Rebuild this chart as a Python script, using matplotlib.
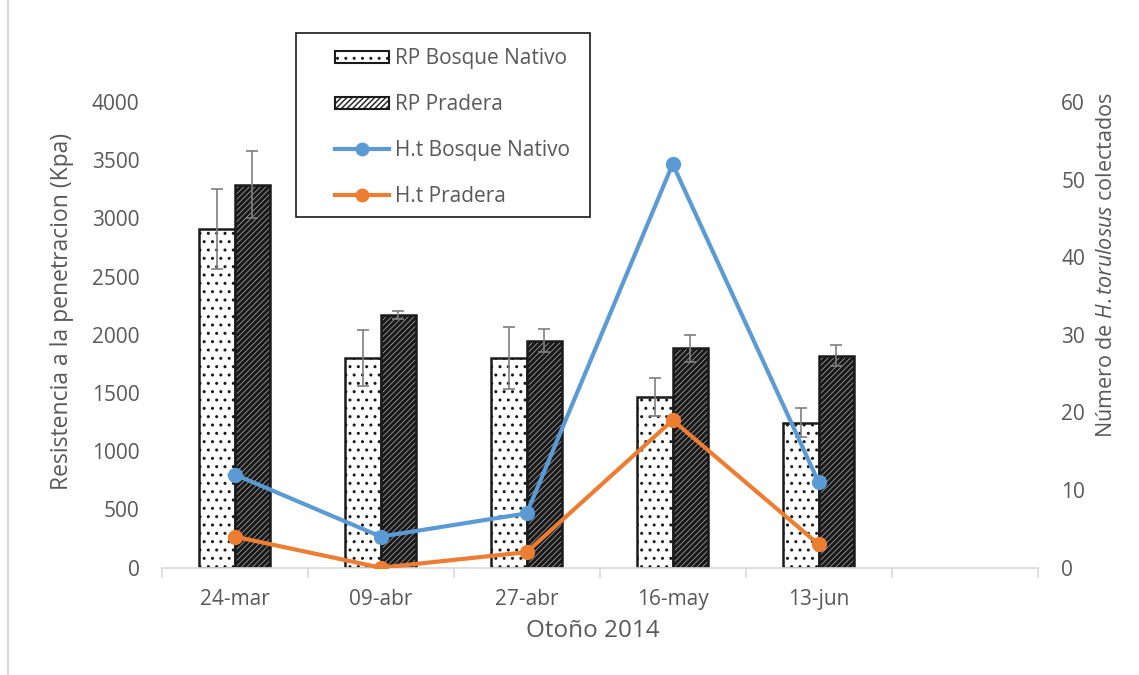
import numpy as np
import matplotlib.pyplot as plt
from matplotlib.lines import Line2D
from matplotlib.patches import Patch, Rectangle

plt.rcParams['font.family'] = ['Open Sans', 'DejaVu Sans']
plt.rcParams['mathtext.fontset'] = 'custom'
plt.rcParams['mathtext.it'] = 'Open Sans:italic'
plt.rcParams['mathtext.rm'] = 'Open Sans'

# Data
fechas = ["24-mar", "09-abr", "27-abr", "16-may", "13-jun"]
rp_bosque = [2910, 1800, 1800, 1465, 1245]
rp_bosque_err = [345, 240, 265, 160, 125]
rp_pradera = [3290, 2170, 1950, 1885, 1820]
rp_pradera_err = [285, 35, 100, 115, 90]
ht_bosque = [12, 4, 7, 52, 11]
ht_pradera = [4, 0, 2, 19, 3]

GRAY_TXT = "#595959"
BLUE = "#5b9bd5"
ORANGE = "#ed7d31"
EDGE = "#1a1a1a"
DOTS = ".."
STRIPES = "//////"

W, H = 1139, 675


def hatch_lw(artists, lw):
    for a in artists:
        if hasattr(a, "set_hatch_linewidth"):
            a.set_hatch_linewidth(lw)


fig = plt.figure(figsize=(W / 100, H / 100), dpi=100)
ax = fig.add_axes([0.142, 0.159, 0.769, 0.690])
ax2 = ax.twinx()

x = np.arange(len(fechas))
w = 0.243

b1 = ax.bar(x - w / 2, rp_bosque, w, color="white", edgecolor=EDGE,
            hatch=DOTS, linewidth=1.8, zorder=2)
b2 = ax.bar(x + w / 2, rp_pradera, w, color="white", edgecolor=EDGE,
            hatch=STRIPES, linewidth=1.8, zorder=2)
hatch_lw(b1, 1.0)
hatch_lw(b2, 2.5)
ax.errorbar(x - w / 2, rp_bosque, yerr=rp_bosque_err, fmt="none",
            ecolor="#7f7f7f", elinewidth=1.2, capsize=4.5, capthick=1.2, zorder=3)
ax.errorbar(x + w / 2, rp_pradera, yerr=rp_pradera_err, fmt="none",
            ecolor="#7f7f7f", elinewidth=1.2, capsize=4.5, capthick=1.2, zorder=3)

ax2.plot(x, ht_bosque, color=BLUE, lw=3, marker="o", ms=10, zorder=4)
ax2.plot(x, ht_pradera, color=ORANGE, lw=3, marker="o", ms=10, zorder=4)

# axes setup: 6 category slots (last is empty)
ax.set_xlim(-0.5, 5.5)
ax.set_ylim(0, 4000)
ax2.set_ylim(0, 60)
ax.set_yticks(np.arange(0, 4001, 500))
ax2.set_yticks(np.arange(0, 61, 10))
ax.set_xticks(x)
ax.set_xticklabels(fechas)
ax.set_xticks(np.arange(-0.5, 6, 1), minor=True)
ax.tick_params(axis="x", which="major", length=0, pad=15, labelsize=15, labelcolor=GRAY_TXT)
ax.tick_params(axis="x", which="minor", length=7, color="#d9d9d9", width=1.2)
ax.tick_params(axis="y", length=0, pad=16, labelsize=15, labelcolor=GRAY_TXT)
ax2.tick_params(axis="y", length=0, pad=17, labelsize=15, labelcolor=GRAY_TXT)

for a in (ax, ax2):
    for s in ("top", "left", "right", "bottom"):
        a.spines[s].set_visible(False)
ax.spines["bottom"].set_visible(True)
ax.spines["bottom"].set_color("#d9d9d9")
ax.spines["bottom"].set_linewidth(1.2)

# axis titles placed at their pixel centres
fig.text(592.7 / W, 1 - 631 / H, "Otoño 2014", fontsize=17.5, color=GRAY_TXT,
         ha="center", va="center")
fig.text(62 / W, 1 - 311 / H, "Resistencia a la penetracion (Kpa)", fontsize=16.5,
         color=GRAY_TXT, rotation=90, ha="center", va="center")
fig.text(1107 / W, 1 - 265 / H, r"Número de $\it{H.torulosus}$ colectados",
         fontsize=15.5, color=GRAY_TXT, rotation=90, ha="center", va="center")

# legend (frame drawn separately to match box position)
handles = [
    Patch(facecolor="white", edgecolor=EDGE, hatch=DOTS, linewidth=1.5),
    Patch(facecolor="white", edgecolor=EDGE, hatch=STRIPES, linewidth=1.5),
    Line2D([0], [0], color=BLUE, lw=3, marker="o", ms=9),
    Line2D([0], [0], color=ORANGE, lw=3, marker="o", ms=9),
]
hatch_lw(handles[:1], 1.0)
hatch_lw(handles[1:2], 2.5)
labels = ["RP Bosque Nativo", "RP Pradera", "H.t Bosque Nativo", "H.t Pradera"]
leg = fig.legend(handles, labels, loc="upper left",
                 bbox_to_anchor=(335 / W, 1 - 48 / H),
                 fontsize=15, frameon=False, labelcolor=GRAY_TXT,
                 handlelength=2.6, handleheight=0.5, handletextpad=0.3,
                 labelspacing=1.2, borderpad=0, borderaxespad=0)
fig.add_artist(Rectangle((296 / W, 1 - 217 / H), 294 / W, 184 / H,
                         transform=fig.transFigure, fill=False,
                         edgecolor=EDGE, linewidth=1.2, zorder=5))

# thin left border of the chart area
fig.add_artist(Line2D([0.007, 0.007], [0.0, 1.0], color="#d9d9d9", lw=1.5))

fig.savefig("out.png", dpi=100)
